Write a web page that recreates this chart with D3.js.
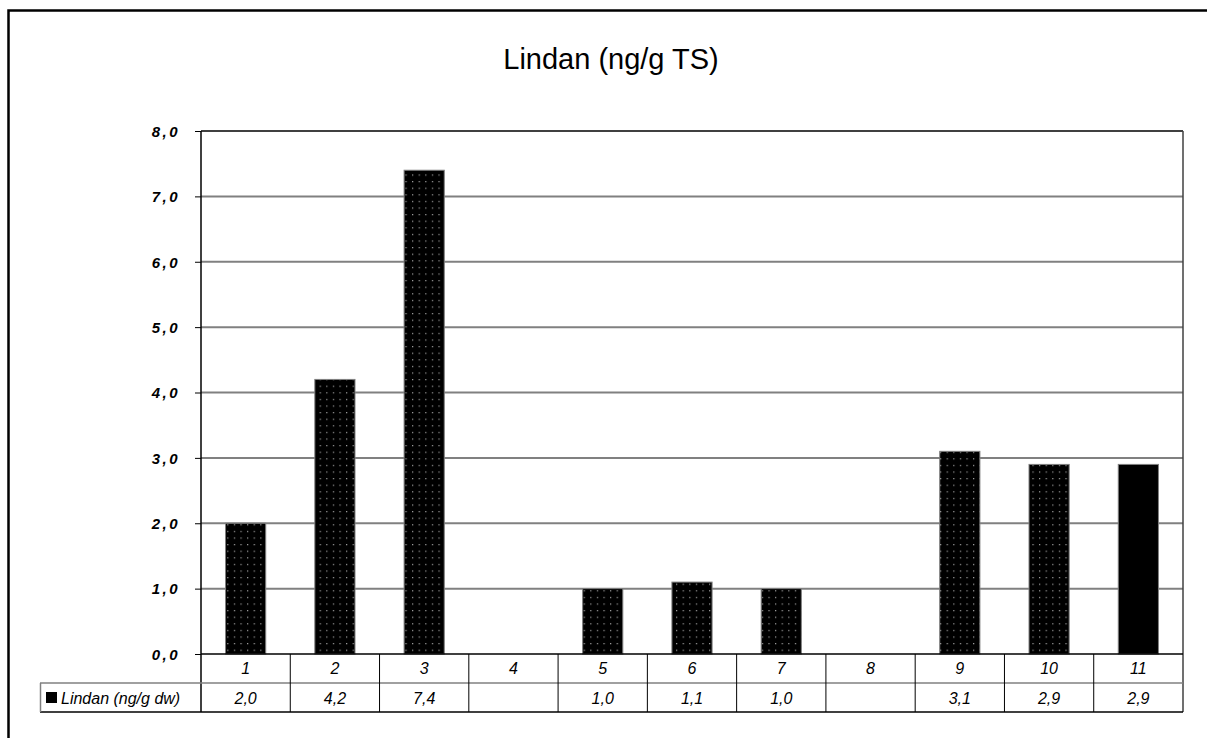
<!DOCTYPE html>
<html lang="sv">
<head>
  <meta charset="UTF-8">
  <title>Lindan (ng/g TS)</title>
  <script src="https://d3js.org/d3.v7.min.js"></script>
  <style>
    body { margin: 0; background: #fff; }
    svg text { font-family: "Liberation Sans", Arial, sans-serif; fill: #000; }
    .tick-label { font-size: 15px; font-weight: bold; font-style: italic; letter-spacing: 2.5px; }
    .cell { font-size: 16px; font-style: italic; }
  </style>
</head>
<body>
<svg id="chart" width="1207" height="738"></svg>
<script>
  // data
  const categories = ["1", "2", "3", "4", "5", "6", "7", "8", "9", "10", "11"];
  const values = [2.0, 4.2, 7.4, null, 1.0, 1.1, 1.0, null, 3.1, 2.9, 2.9];
  const seriesName = "Lindan (ng/g dw)";
  const title = "Lindan (ng/g TS)";
  const yTicks = [0, 1, 2, 3, 4, 5, 6, 7, 8];

  const svg = d3.select("#chart");
  const plotL = 201, plotR = 1183, plotT = 131, plotB = 654;
  const rowH = 29;

  const fmt = v => d3.format(".1f")(v).replace(".", ",");

  // outer frame (clipped by the window on right and bottom)
  svg.append("path")
    .attr("d", "M8.5,760 V10.5 H1207")
    .attr("fill", "none").attr("stroke", "#000").attr("stroke-width", 2.5);

  svg.append("text")
    .attr("x", 611).attr("y", 69)
    .attr("text-anchor", "middle")
    .style("font-size", "29px")
    .text(title);

  const defs = svg.append("defs");
  const pat = defs.append("pattern")
    .attr("id", "dots").attr("patternUnits", "userSpaceOnUse")
    .attr("width", 6.6).attr("height", 6.6);
  pat.append("rect").attr("width", 6.6).attr("height", 6.6).attr("fill", "#000");
  pat.append("rect").attr("x", 3).attr("y", 3).attr("width", 1).attr("height", 1).attr("fill", "#e8e8e8");

  const x = d3.scaleBand().domain(categories).range([plotL, plotR]).padding(0);
  const y = d3.scaleLinear().domain([0, 8]).range([plotB, plotT]);

  // gridlines
  svg.append("g").selectAll("line")
    .data(yTicks.filter(d => d > 0 && d < 8))
    .join("line")
    .attr("x1", plotL).attr("x2", plotR)
    .attr("y1", d => y(d)).attr("y2", d => y(d))
    .attr("stroke", "#808080").attr("stroke-width", 2);

  // bars
  const barW = x.bandwidth() * 0.45;
  svg.append("g").selectAll("rect")
    .data(categories.map((c, i) => ({ c, v: values[i], i })).filter(d => d.v != null))
    .join("rect")
    .attr("x", d => x(d.c) + (x.bandwidth() - barW) / 2)
    .attr("y", d => y(d.v))
    .attr("width", barW)
    .attr("height", d => y(0) - y(d.v))
    .attr("fill", d => d.i === categories.length - 1 ? "#000" : "url(#dots)")
    .attr("stroke", "#808080").attr("stroke-width", 1);

  // y axis
  const yAxis = d3.axisLeft(y).tickValues(yTicks).tickSize(6).tickPadding(0).tickFormat(fmt);
  const ya = svg.append("g").attr("transform", `translate(${plotL},0)`).call(yAxis);
  ya.select(".domain").remove();
  ya.selectAll(".tick line").attr("stroke", "#000");
  ya.selectAll(".tick text")
    .attr("class", "tick-label")
    .attr("x", -21).attr("dy", "0.35em");
  ya.attr("font-family", null).attr("font-size", null);

  // plot border
  svg.append("line").attr("x1", plotL).attr("x2", plotR).attr("y1", plotT).attr("y2", plotT)
    .attr("stroke", "#000").attr("stroke-width", 1.5);
  svg.append("line").attr("x1", plotR).attr("x2", plotR).attr("y1", plotT).attr("y2", plotB + 2 * rowH)
    .attr("stroke", "#404040").attr("stroke-width", 1.5);
  svg.append("line").attr("x1", plotL).attr("x2", plotL).attr("y1", plotT).attr("y2", plotB + 2 * rowH)
    .attr("stroke", "#000").attr("stroke-width", 1.5);

  // data table
  const tbl = svg.append("g");
  tbl.append("line").attr("x1", plotL).attr("x2", plotR).attr("y1", plotB).attr("y2", plotB)
    .attr("stroke", "#000").attr("stroke-width", 1.5);
  tbl.append("line").attr("x1", 40).attr("x2", plotR).attr("y1", plotB + rowH).attr("y2", plotB + rowH)
    .attr("stroke", "#808080").attr("stroke-width", 1.5);
  tbl.append("line").attr("x1", 40).attr("x2", plotR).attr("y1", plotB + 2 * rowH).attr("y2", plotB + 2 * rowH)
    .attr("stroke", "#000").attr("stroke-width", 1.5);
  tbl.append("line").attr("x1", 40.5).attr("x2", 40.5).attr("y1", plotB + rowH).attr("y2", plotB + 2 * rowH)
    .attr("stroke", "#808080").attr("stroke-width", 1.5);

  tbl.selectAll(".sep")
    .data(categories.slice(1))
    .join("line")
    .attr("class", "sep")
    .attr("x1", d => x(d)).attr("x2", d => x(d))
    .attr("y1", plotB).attr("y2", plotB + 2 * rowH)
    .attr("stroke", "#000").attr("stroke-width", 1);

  tbl.selectAll(".cat")
    .data(categories)
    .join("text")
    .attr("class", "cell")
    .attr("x", d => x(d) + x.bandwidth() / 2)
    .attr("y", plotB + 19.5)
    .attr("text-anchor", "middle")
    .text(d => d);

  tbl.selectAll(".val")
    .data(categories.map((c, i) => ({ c, v: values[i] })))
    .join("text")
    .attr("class", "cell")
    .attr("x", d => x(d.c) + x.bandwidth() / 2)
    .attr("y", plotB + rowH + 21)
    .attr("text-anchor", "middle")
    .text(d => d.v == null ? "" : fmt(d.v));

  // legend key in the table
  tbl.append("rect").attr("x", 46).attr("y", plotB + rowH + 9).attr("width", 11).attr("height", 11)
    .attr("fill", "#000");
  tbl.append("text").attr("class", "cell")
    .attr("x", 61).attr("y", plotB + rowH + 21)
    .text(seriesName);
</script>
</body>
</html>
